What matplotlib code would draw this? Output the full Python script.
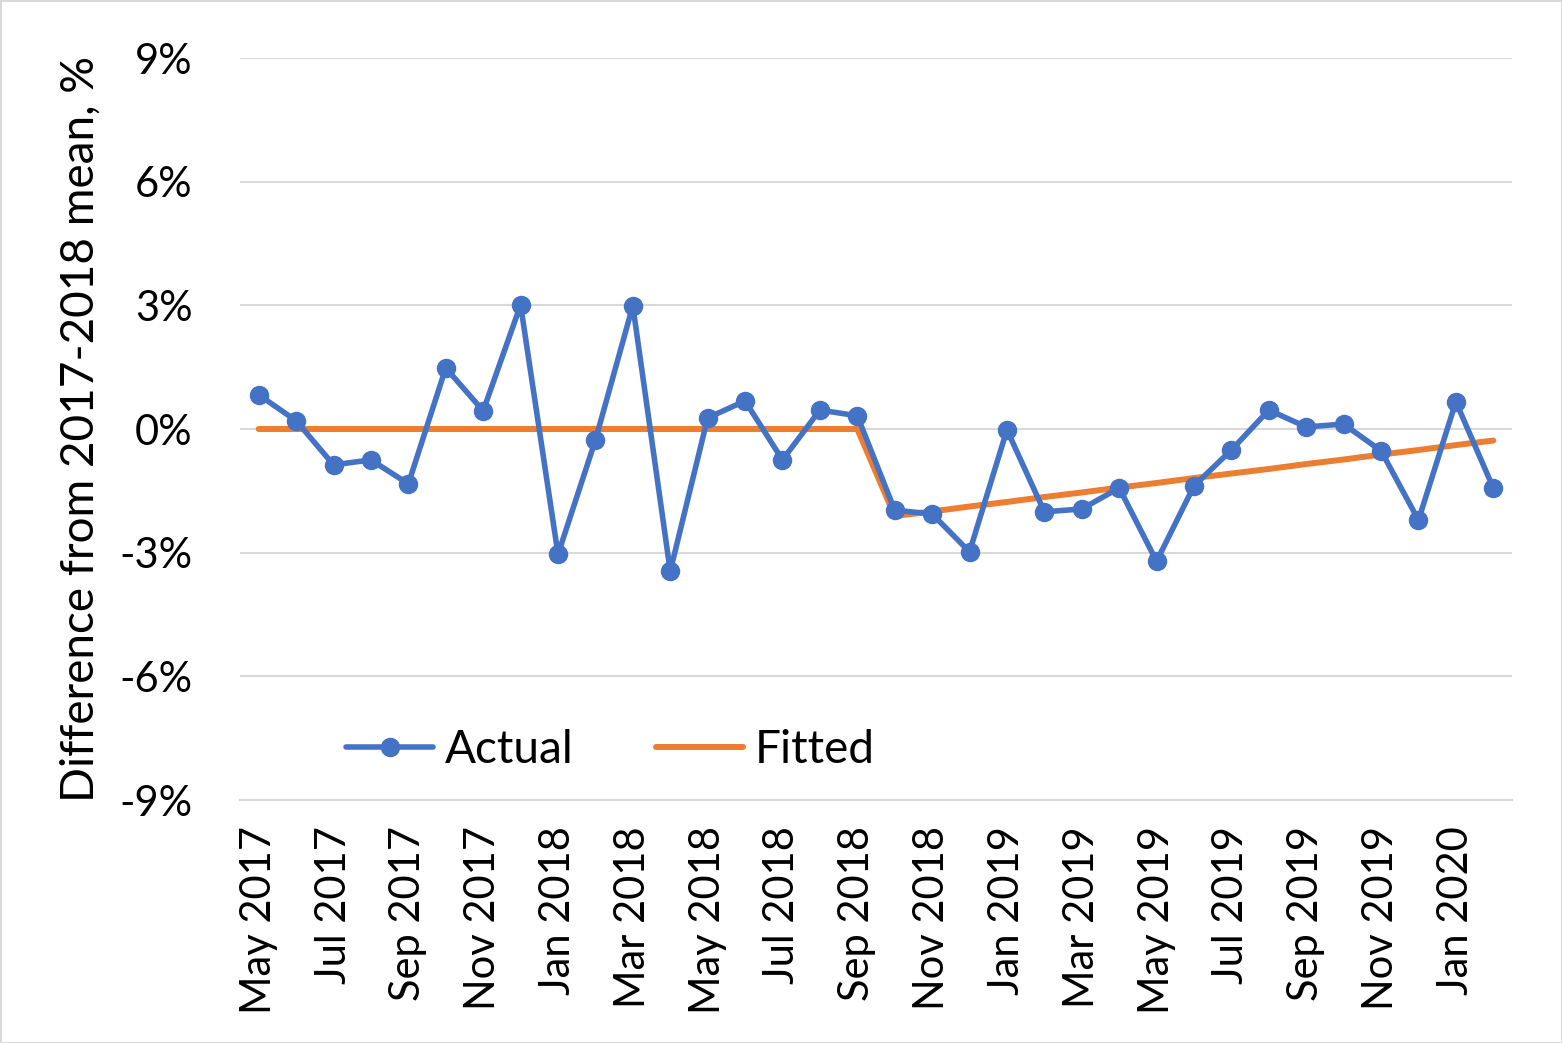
import matplotlib.pyplot as plt

# monthly series, May 2017 - Feb 2020
months = ['May 2017', 'Jun 2017', 'Jul 2017', 'Aug 2017', 'Sep 2017', 'Oct 2017',
          'Nov 2017', 'Dec 2017', 'Jan 2018', 'Feb 2018', 'Mar 2018', 'Apr 2018',
          'May 2018', 'Jun 2018', 'Jul 2018', 'Aug 2018', 'Sep 2018', 'Oct 2018',
          'Nov 2018', 'Dec 2018', 'Jan 2019', 'Feb 2019', 'Mar 2019', 'Apr 2019',
          'May 2019', 'Jun 2019', 'Jul 2019', 'Aug 2019', 'Sep 2019', 'Oct 2019',
          'Nov 2019', 'Dec 2019', 'Jan 2020', 'Feb 2020']

actual = [0.83, 0.20, -0.87, -0.75, -1.33, 1.48, 0.44, 3.01, -3.04, -0.27,
          2.99, -3.45, 0.27, 0.68, -0.75, 0.46, 0.32, -1.97, -2.06, -2.98,
          -0.02, -2.01, -1.94, -1.43, -3.21, -1.38, -0.51, 0.46, 0.05, 0.12,
          -0.53, -2.21, 0.66, -1.43]

fitted = [0, 0, 0, 0, 0, 0, 0, 0, 0, 0, 0, 0, 0, 0, 0, 0, 0,
          -2.11, -2.00, -1.88, -1.77, -1.65, -1.54, -1.42, -1.31, -1.19,
          -1.08, -0.97, -0.85, -0.74, -0.62, -0.51, -0.39, -0.28]

yticks = [-9, -6, -3, 0, 3, 6, 9]

plt.rcParams['font.family'] = ['Lato', 'DejaVu Sans']

fig = plt.figure(figsize=(15.62, 10.43), dpi=100)
fig.patch.set_edgecolor('#d9d9d9')
fig.patch.set_linewidth(2)
ax = fig.add_axes([240 / 1562, 1 - 800 / 1043, 1272 / 1562, 742 / 1043])

x = list(range(len(months)))
ax.plot(x, actual, color='#4472c4', lw=4, marker='o', markersize=13,
        solid_capstyle='round', label='Actual', zorder=3)
ax.plot(x, fitted, color='#ed7d31', lw=4.3, solid_capstyle='round',
        label='Fitted', zorder=2)

ax.set_xlim(-0.5, len(months) - 0.5)
ax.set_ylim(-9, 9)
ax.set_yticks(yticks)
ax.set_yticklabels([f'{v}%' for v in yticks], fontsize=30)
ax.set_xticks(x[::2])
ax.set_xticklabels(months[::2], rotation=90, fontsize=30)
ax.tick_params(length=0)
ax.tick_params(axis='x', pad=19)
ax.tick_params(axis='y', pad=34)

ax.grid(axis='y', color='#d9d9d9', lw=1.5)
ax.set_axisbelow(True)
for s in ['top', 'right', 'left']:
    ax.spines[s].set_visible(False)
ax.spines['bottom'].set_color('#d9d9d9')
ax.spines['bottom'].set_linewidth(1.5)

ax.set_ylabel('Difference from 2017-2018 mean, %', fontsize=33, labelpad=13)

ax.legend(loc='center', bbox_to_anchor=(0.291, 0.067), ncol=2, frameon=False,
          fontsize=33, handlelength=1.9, columnspacing=1.8, handletextpad=0.25)

fig.savefig('out.png', dpi=100)
